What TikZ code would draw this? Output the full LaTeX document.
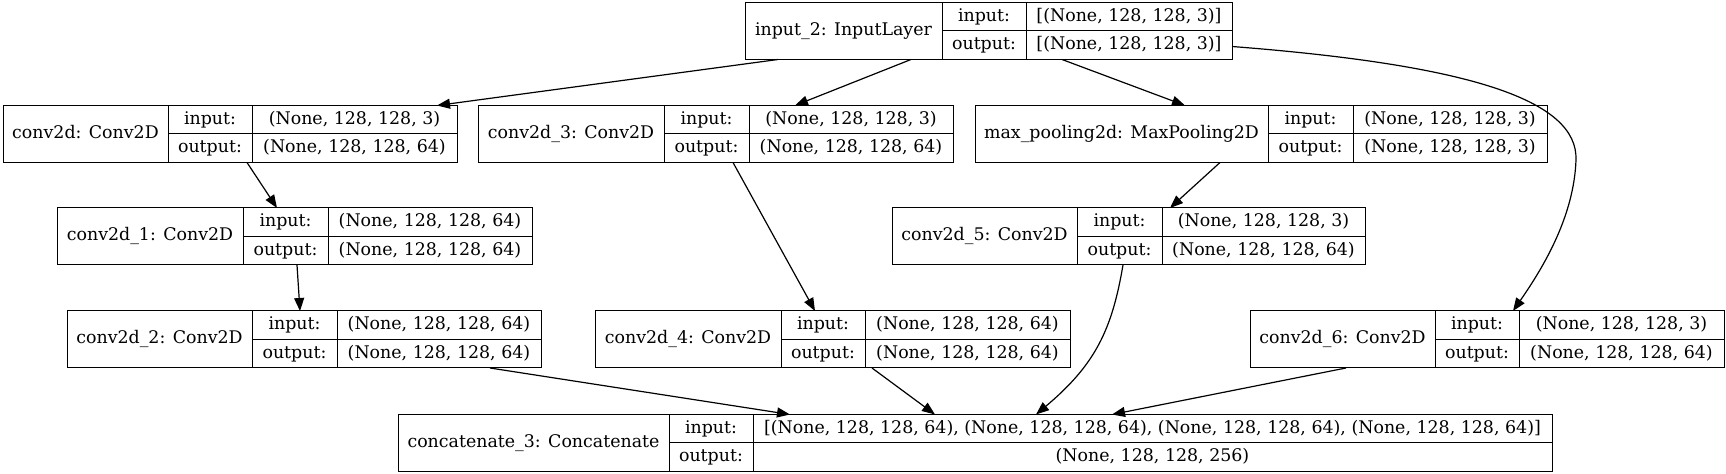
\documentclass[tikz,border=0pt]{standalone}
\usepackage{fontspec}
\setmainfont{DejaVu Serif}
\usetikzlibrary{arrows.meta,calc,fit}
\tikzset{
 layerframe/.style={draw, line width=0.5pt, inner sep=0pt, outer sep=0pt},
 cellline/.style={line width=0.5pt},
 celltext/.style={inner sep=0pt, text height=6.4pt, text depth=1.9pt, font=\fontsize{8.7}{10}\selectfont},
 edge/.style={line width=0.6pt, -{Triangle[length=6.5pt,width=5pt]}},
}
\newcommand\layerbox[9]{%
 \node[layerframe, fit={(#2,#6) (#5,#6+57)}] (#1) {};
 \draw[cellline] (#3,#6) -- (#3,#6+57);
 \draw[cellline] (#4,#6) -- (#4,#6+57);
 \draw[cellline] (#3,#6+28.5) -- (#5,#6+28.5);
 \node[celltext] (#1-t) at ({(#2+#3)/2},#6+28.5) {#7};
 \node[celltext] (#1-il) at ({(#3+#4)/2},#6+14.25) {input:};
 \node[celltext] (#1-ol) at ({(#3+#4)/2},#6+42.75) {output:};
 \node[celltext] (#1-iv) at ({(#4+#5)/2},#6+14.25) {#8};
 \node[celltext] (#1-ov) at ({(#4+#5)/2},#6+42.75) {#9};
}
\begin{document}
\begin{tikzpicture}[x=0.5pt,y=-0.5pt]
\fill[white] (0,0) rectangle (1726,474);
\useasboundingbox (0,0) rectangle (1726,474);
\layerbox{in2}{745}{942}{1026}{1232}{2.5}{input\_2: InputLayer}{[(None, 128, 128, 3)]}{[(None, 128, 128, 3)]}
\layerbox{c0}{3}{168}{252}{457}{105.5}{conv2d: Conv2D}{(None, 128, 128, 3)}{(None, 128, 128, 64)}
\layerbox{c3}{478}{664}{749}{953}{105.5}{conv2d\_3: Conv2D}{(None, 128, 128, 3)}{(None, 128, 128, 64)}
\layerbox{mp}{975}{1268}{1353}{1547}{105.5}{max\_pooling2d: MaxPooling2D}{(None, 128, 128, 3)}{(None, 128, 128, 3)}
\layerbox{c1}{57}{243}{328}{532}{208}{conv2d\_1: Conv2D}{(None, 128, 128, 64)}{(None, 128, 128, 64)}
\layerbox{c5}{892}{1077}{1162}{1365}{208}{conv2d\_5: Conv2D}{(None, 128, 128, 3)}{(None, 128, 128, 64)}
\layerbox{c2}{67}{252}{337}{541}{311}{conv2d\_2: Conv2D}{(None, 128, 128, 64)}{(None, 128, 128, 64)}
\layerbox{c4}{595}{781}{865}{1070}{311}{conv2d\_4: Conv2D}{(None, 128, 128, 64)}{(None, 128, 128, 64)}
\layerbox{c6}{1250}{1435}{1519}{1724}{311}{conv2d\_6: Conv2D}{(None, 128, 128, 3)}{(None, 128, 128, 64)}
\layerbox{cat}{398}{669}{753}{1552}{414.5}{concatenate\_3: Concatenate}{[(None, 128, 128, 64), (None, 128, 128, 64), (None, 128, 128, 64), (None, 128, 128, 64)]}{(None, 128, 128, 256)}
% edges
\draw[edge] ($(in2.south west)+(33,0)$) -- ($(c0.north west)+(434,0)$);
\draw[edge] ($(in2.south west)+(166,0)$) -- ($(c3.north west)+(317,0)$);
\draw[edge] ($(in2.south west)+(317,0)$) -- ($(mp.north west)+(210,0)$);
\draw[edge] ($(in2.north east)+(0,44)$) .. controls (1470,65) and (1578,100) .. (1576,160)
            .. controls (1574,215) and (1545,265) .. ($(c6.north west)+(263,0)$);
\draw[edge] ($(c0.south west)+(244,0)$) -- ($(c1.north west)+(220,0)$);
\draw[edge] ($(c1.south west)+(240,0)$) -- ($(c2.north west)+(233,0)$);
\draw[edge] ($(c3.south west)+(255,0)$) -- ($(c4.north west)+(220,0)$);
\draw[edge] ($(mp.south west)+(245,0)$) -- ($(c5.north west)+(278,0)$);
\draw[edge] ($(c5.south west)+(231,0)$) .. controls (1112,330) and (1095,365) .. ($(cat.north west)+(638,0)$);
\draw[edge] ($(c2.south west)+(423,0)$) -- ($(cat.north west)+(392,0)$);
\draw[edge] ($(c4.south west)+(277,0)$) -- ($(cat.north west)+(537,0)$);
\draw[edge] ($(c6.south west)+(96,0)$) -- ($(cat.north west)+(714,0)$);
\end{tikzpicture}
\end{document}
